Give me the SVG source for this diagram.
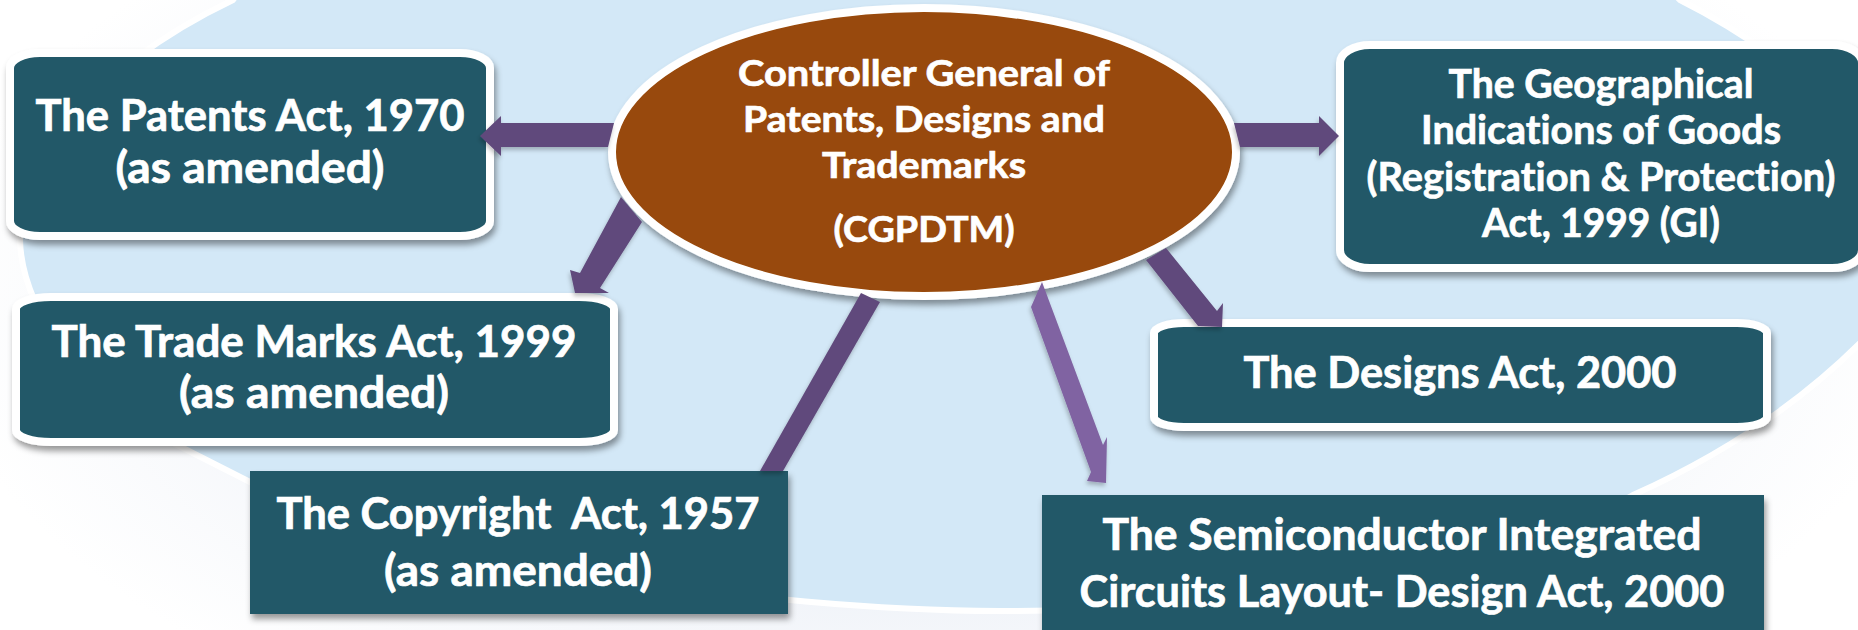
<svg xmlns="http://www.w3.org/2000/svg" width="1858" height="630" viewBox="0 0 1858 630">
<defs>
<radialGradient id="wash" gradientUnits="userSpaceOnUse" cx="929" cy="300" r="1000" gradientTransform="translate(0 150) scale(1 0.5)"><stop offset="0.6" stop-color="#F1F4F9"/><stop offset="1" stop-color="#FFFFFF"/></radialGradient>
<filter id="sh" x="-5%" y="-10%" width="110%" height="125%"><feDropShadow dx="2" dy="5" stdDeviation="3" flood-color="#000" flood-opacity="0.4"/></filter>
<filter id="sa" x="-20%" y="-20%" width="140%" height="140%"><feDropShadow dx="-1" dy="3" stdDeviation="2" flood-color="#000" flood-opacity="0.25"/></filter>
<style>
.t{font-family:"Lato","Liberation Sans",sans-serif;font-weight:700;fill:#fff;stroke:#fff;stroke-width:0.7;text-anchor:middle;font-variant-ligatures:none}
.s{font-size:37px}
.m{font-size:43px}
.g{font-size:40px}
.box{fill:#215968;filter:url(#sh)}
.bb{stroke:#fff;stroke-width:8}
.a{fill:#604A7B}
</style>
</defs>
<rect width="1858" height="630" fill="url(#wash)"/>
<path id="backdrop" fill="#D3E8F7" stroke="#fff" stroke-width="6" d="M240 -10L233 0C170 30 110 70 60 130C35 165 22 200 20 240C22 320 100 410 183 448L250 482C420 560 760 610 1000 611C1300 610 1500 570 1633 495C1700 465 1790 415 1868 335V130C1800 75 1750 35 1680 0L1670 -10Z"/>
<g id="center"><ellipse cx="924" cy="152" rx="312" ry="144" fill="#984807" stroke="#fff" stroke-width="8" filter="url(#sh)"/>
<text class="t s" x="924" y="86" textLength="372" lengthAdjust="spacingAndGlyphs">Controller General of</text>
<text class="t s" x="924" y="132" textLength="362" lengthAdjust="spacingAndGlyphs">Patents, Designs and</text>
<text class="t s" x="924" y="178" textLength="204" lengthAdjust="spacingAndGlyphs">Trademarks</text>
<text class="t s" x="924" y="242" textLength="181" lengthAdjust="spacingAndGlyphs">(CGPDTM)</text></g>
<g id="patents"><rect class="box bb" x="10" y="53" width="480" height="183" rx="30" ry="15"/>
<text class="t m" x="250" y="131" textLength="429" lengthAdjust="spacingAndGlyphs">The Patents Act, 1970</text>
<text class="t m" x="250" y="183" textLength="269" lengthAdjust="spacingAndGlyphs">(as amended)</text></g>
<g id="trademarks"><rect class="box bb" x="16" y="297" width="598" height="145" rx="35" ry="12"/>
<text class="t m" x="314" y="357" textLength="525" lengthAdjust="spacingAndGlyphs">The Trade Marks Act, 1999</text>
<text class="t m" x="314" y="408" textLength="270" lengthAdjust="spacingAndGlyphs">(as amended)</text></g>
<g id="copyright"><rect class="box" x="250" y="471" width="538" height="143"/>
<text class="t m" x="518" y="529" textLength="483" lengthAdjust="spacingAndGlyphs" xml:space="preserve">The Copyright  Act, 1957</text>
<text class="t m" x="518" y="586" textLength="268" lengthAdjust="spacingAndGlyphs">(as amended)</text></g>
<g id="gi"><rect class="box bb" x="1340" y="45" width="522" height="223" rx="30" ry="18"/>
<text class="t g" x="1601" y="98" textLength="305" lengthAdjust="spacingAndGlyphs">The Geographical</text>
<text class="t g" x="1601" y="144" textLength="360" lengthAdjust="spacingAndGlyphs">Indications of Goods</text>
<text class="t g" x="1601" y="191" textLength="469" lengthAdjust="spacingAndGlyphs">(Registration &amp; Protection)</text>
<text class="t g" x="1601" y="237" textLength="238" lengthAdjust="spacingAndGlyphs">Act, 1999 (GI)</text></g>
<g id="designs"><rect class="box bb" x="1154" y="323" width="613" height="104" rx="30" ry="10"/>
<text class="t m" x="1460" y="388" textLength="433" lengthAdjust="spacingAndGlyphs">The Designs Act, 2000</text></g>
<g id="semiconductor"><rect class="box" x="1042" y="495" width="722" height="140"/>
<text class="t m" x="1402" y="550" textLength="599" lengthAdjust="spacingAndGlyphs">The Semiconductor Integrated</text>
<text class="t m" x="1402" y="607" textLength="645" lengthAdjust="spacingAndGlyphs">Circuits Layout- Design Act, 2000</text></g>
<g id="connectors" filter="url(#sa)">
<polygon class="a" points="614,123 501,123 501,116 480,136 501,156 501,147 608,147"/>
<polygon class="a" points="1234,123 1319,123 1319,116 1339,136 1319,156 1319,147 1240,147"/>
<polygon class="a" points="621,197 580,273 570,270 575,293 609,293 600,288 642,222"/>
<polygon class="a" points="861,293 880,302 783,471 760,471"/>
<polygon class="a" points="1166,248 1217,311 1223,303 1222,327 1198,326 1146,260"/>
<polygon fill="#8064A2" points="1042,282 1103,445 1107,437 1106,483 1087,481 1091,472 1031,307"/>
</g>
</svg>
